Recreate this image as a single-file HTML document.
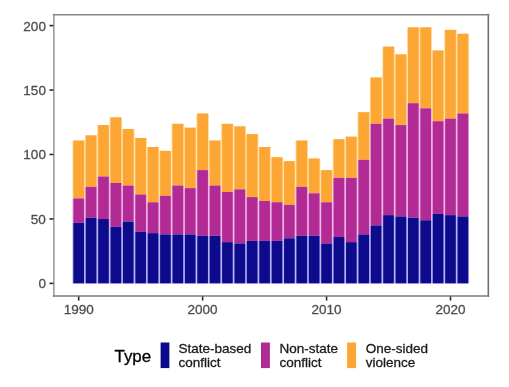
<!DOCTYPE html>
<html><head><meta charset="utf-8"><style>
html,body{margin:0;padding:0;background:#fff;}
body{width:509px;height:387px;overflow:hidden;}
svg{display:block;font-family:"Liberation Sans",sans-serif;will-change:transform;}
text{stroke:currentColor;stroke-width:0.3px;}
</style></head><body>
<svg width="509" height="387" viewBox="0 0 509 387">
<rect x="0" y="0" width="509" height="387" fill="#fff"/>
<rect x="72.50" y="140.55" width="12.393" height="57.89" fill="#fed98e"/>
<rect x="73.40" y="140.55" width="10.60" height="57.89" fill="#FCA636"/>
<rect x="72.50" y="198.44" width="12.393" height="24.44" fill="#eaa6e2"/>
<rect x="73.40" y="198.44" width="10.60" height="24.44" fill="#b22a94"/>
<rect x="72.50" y="222.88" width="12.393" height="60.47" fill="#a4a4f0"/>
<rect x="73.40" y="222.88" width="10.60" height="60.47" fill="#0d0a8c"/>
<rect x="84.90" y="135.40" width="12.393" height="51.46" fill="#fed98e"/>
<rect x="85.79" y="135.40" width="10.60" height="51.46" fill="#FCA636"/>
<rect x="84.90" y="186.86" width="12.393" height="30.88" fill="#eaa6e2"/>
<rect x="85.79" y="186.86" width="10.60" height="30.88" fill="#b22a94"/>
<rect x="84.90" y="217.74" width="12.393" height="65.61" fill="#a4a4f0"/>
<rect x="85.79" y="217.74" width="10.60" height="65.61" fill="#0d0a8c"/>
<rect x="97.29" y="125.11" width="12.393" height="51.46" fill="#fed98e"/>
<rect x="98.19" y="125.11" width="10.60" height="51.46" fill="#FCA636"/>
<rect x="97.29" y="176.57" width="12.393" height="42.45" fill="#eaa6e2"/>
<rect x="98.19" y="176.57" width="10.60" height="42.45" fill="#b22a94"/>
<rect x="97.29" y="219.03" width="12.393" height="64.33" fill="#a4a4f0"/>
<rect x="98.19" y="219.03" width="10.60" height="64.33" fill="#0d0a8c"/>
<rect x="109.68" y="117.39" width="12.393" height="65.61" fill="#fed98e"/>
<rect x="110.58" y="117.39" width="10.60" height="65.61" fill="#FCA636"/>
<rect x="109.68" y="183.00" width="12.393" height="43.74" fill="#eaa6e2"/>
<rect x="110.58" y="183.00" width="10.60" height="43.74" fill="#b22a94"/>
<rect x="109.68" y="226.74" width="12.393" height="56.61" fill="#a4a4f0"/>
<rect x="110.58" y="226.74" width="10.60" height="56.61" fill="#0d0a8c"/>
<rect x="122.08" y="128.97" width="12.393" height="56.61" fill="#fed98e"/>
<rect x="122.97" y="128.97" width="10.60" height="56.61" fill="#FCA636"/>
<rect x="122.08" y="185.58" width="12.393" height="36.02" fill="#eaa6e2"/>
<rect x="122.97" y="185.58" width="10.60" height="36.02" fill="#b22a94"/>
<rect x="122.08" y="221.60" width="12.393" height="61.75" fill="#a4a4f0"/>
<rect x="122.97" y="221.60" width="10.60" height="61.75" fill="#0d0a8c"/>
<rect x="134.47" y="137.98" width="12.393" height="56.61" fill="#fed98e"/>
<rect x="135.37" y="137.98" width="10.60" height="56.61" fill="#FCA636"/>
<rect x="134.47" y="194.58" width="12.393" height="37.31" fill="#eaa6e2"/>
<rect x="135.37" y="194.58" width="10.60" height="37.31" fill="#b22a94"/>
<rect x="134.47" y="231.89" width="12.393" height="51.46" fill="#a4a4f0"/>
<rect x="135.37" y="231.89" width="10.60" height="51.46" fill="#0d0a8c"/>
<rect x="146.86" y="146.98" width="12.393" height="55.32" fill="#fed98e"/>
<rect x="147.76" y="146.98" width="10.60" height="55.32" fill="#FCA636"/>
<rect x="146.86" y="202.30" width="12.393" height="30.88" fill="#eaa6e2"/>
<rect x="147.76" y="202.30" width="10.60" height="30.88" fill="#b22a94"/>
<rect x="146.86" y="233.18" width="12.393" height="50.17" fill="#a4a4f0"/>
<rect x="147.76" y="233.18" width="10.60" height="50.17" fill="#0d0a8c"/>
<rect x="159.25" y="150.84" width="12.393" height="45.03" fill="#fed98e"/>
<rect x="160.15" y="150.84" width="10.60" height="45.03" fill="#FCA636"/>
<rect x="159.25" y="195.87" width="12.393" height="38.59" fill="#eaa6e2"/>
<rect x="160.15" y="195.87" width="10.60" height="38.59" fill="#b22a94"/>
<rect x="159.25" y="234.46" width="12.393" height="48.89" fill="#a4a4f0"/>
<rect x="160.15" y="234.46" width="10.60" height="48.89" fill="#0d0a8c"/>
<rect x="171.65" y="123.82" width="12.393" height="61.75" fill="#fed98e"/>
<rect x="172.54" y="123.82" width="10.60" height="61.75" fill="#FCA636"/>
<rect x="171.65" y="185.58" width="12.393" height="48.89" fill="#eaa6e2"/>
<rect x="172.54" y="185.58" width="10.60" height="48.89" fill="#b22a94"/>
<rect x="171.65" y="234.46" width="12.393" height="48.89" fill="#a4a4f0"/>
<rect x="172.54" y="234.46" width="10.60" height="48.89" fill="#0d0a8c"/>
<rect x="184.04" y="127.68" width="12.393" height="60.47" fill="#fed98e"/>
<rect x="184.94" y="127.68" width="10.60" height="60.47" fill="#FCA636"/>
<rect x="184.04" y="188.15" width="12.393" height="46.31" fill="#eaa6e2"/>
<rect x="184.94" y="188.15" width="10.60" height="46.31" fill="#b22a94"/>
<rect x="184.04" y="234.46" width="12.393" height="48.89" fill="#a4a4f0"/>
<rect x="184.94" y="234.46" width="10.60" height="48.89" fill="#0d0a8c"/>
<rect x="196.43" y="113.53" width="12.393" height="56.61" fill="#fed98e"/>
<rect x="197.33" y="113.53" width="10.60" height="56.61" fill="#FCA636"/>
<rect x="196.43" y="170.14" width="12.393" height="65.61" fill="#eaa6e2"/>
<rect x="197.33" y="170.14" width="10.60" height="65.61" fill="#b22a94"/>
<rect x="196.43" y="235.75" width="12.393" height="47.60" fill="#a4a4f0"/>
<rect x="197.33" y="235.75" width="10.60" height="47.60" fill="#0d0a8c"/>
<rect x="208.83" y="140.55" width="12.393" height="45.03" fill="#fed98e"/>
<rect x="209.72" y="140.55" width="10.60" height="45.03" fill="#FCA636"/>
<rect x="208.83" y="185.58" width="12.393" height="50.17" fill="#eaa6e2"/>
<rect x="209.72" y="185.58" width="10.60" height="50.17" fill="#b22a94"/>
<rect x="208.83" y="235.75" width="12.393" height="47.60" fill="#a4a4f0"/>
<rect x="209.72" y="235.75" width="10.60" height="47.60" fill="#0d0a8c"/>
<rect x="221.22" y="123.82" width="12.393" height="68.18" fill="#fed98e"/>
<rect x="222.12" y="123.82" width="10.60" height="68.18" fill="#FCA636"/>
<rect x="221.22" y="192.01" width="12.393" height="50.17" fill="#eaa6e2"/>
<rect x="222.12" y="192.01" width="10.60" height="50.17" fill="#b22a94"/>
<rect x="221.22" y="242.18" width="12.393" height="41.17" fill="#a4a4f0"/>
<rect x="222.12" y="242.18" width="10.60" height="41.17" fill="#0d0a8c"/>
<rect x="233.61" y="126.40" width="12.393" height="63.04" fill="#fed98e"/>
<rect x="234.51" y="126.40" width="10.60" height="63.04" fill="#FCA636"/>
<rect x="233.61" y="189.44" width="12.393" height="54.03" fill="#eaa6e2"/>
<rect x="234.51" y="189.44" width="10.60" height="54.03" fill="#b22a94"/>
<rect x="233.61" y="243.47" width="12.393" height="39.88" fill="#a4a4f0"/>
<rect x="234.51" y="243.47" width="10.60" height="39.88" fill="#0d0a8c"/>
<rect x="246.01" y="134.12" width="12.393" height="63.04" fill="#fed98e"/>
<rect x="246.90" y="134.12" width="10.60" height="63.04" fill="#FCA636"/>
<rect x="246.01" y="197.15" width="12.393" height="43.74" fill="#eaa6e2"/>
<rect x="246.90" y="197.15" width="10.60" height="43.74" fill="#b22a94"/>
<rect x="246.01" y="240.90" width="12.393" height="42.45" fill="#a4a4f0"/>
<rect x="246.90" y="240.90" width="10.60" height="42.45" fill="#0d0a8c"/>
<rect x="258.40" y="146.98" width="12.393" height="54.03" fill="#fed98e"/>
<rect x="259.30" y="146.98" width="10.60" height="54.03" fill="#FCA636"/>
<rect x="258.40" y="201.01" width="12.393" height="39.88" fill="#eaa6e2"/>
<rect x="259.30" y="201.01" width="10.60" height="39.88" fill="#b22a94"/>
<rect x="258.40" y="240.90" width="12.393" height="42.45" fill="#a4a4f0"/>
<rect x="259.30" y="240.90" width="10.60" height="42.45" fill="#0d0a8c"/>
<rect x="270.79" y="157.27" width="12.393" height="45.03" fill="#fed98e"/>
<rect x="271.69" y="157.27" width="10.60" height="45.03" fill="#FCA636"/>
<rect x="270.79" y="202.30" width="12.393" height="38.59" fill="#eaa6e2"/>
<rect x="271.69" y="202.30" width="10.60" height="38.59" fill="#b22a94"/>
<rect x="270.79" y="240.90" width="12.393" height="42.45" fill="#a4a4f0"/>
<rect x="271.69" y="240.90" width="10.60" height="42.45" fill="#0d0a8c"/>
<rect x="283.18" y="161.13" width="12.393" height="43.74" fill="#fed98e"/>
<rect x="284.08" y="161.13" width="10.60" height="43.74" fill="#FCA636"/>
<rect x="283.18" y="204.87" width="12.393" height="33.45" fill="#eaa6e2"/>
<rect x="284.08" y="204.87" width="10.60" height="33.45" fill="#b22a94"/>
<rect x="283.18" y="238.32" width="12.393" height="45.03" fill="#a4a4f0"/>
<rect x="284.08" y="238.32" width="10.60" height="45.03" fill="#0d0a8c"/>
<rect x="295.58" y="140.55" width="12.393" height="46.31" fill="#fed98e"/>
<rect x="296.47" y="140.55" width="10.60" height="46.31" fill="#FCA636"/>
<rect x="295.58" y="186.86" width="12.393" height="48.89" fill="#eaa6e2"/>
<rect x="296.47" y="186.86" width="10.60" height="48.89" fill="#b22a94"/>
<rect x="295.58" y="235.75" width="12.393" height="47.60" fill="#a4a4f0"/>
<rect x="296.47" y="235.75" width="10.60" height="47.60" fill="#0d0a8c"/>
<rect x="307.97" y="158.56" width="12.393" height="34.74" fill="#fed98e"/>
<rect x="308.87" y="158.56" width="10.60" height="34.74" fill="#FCA636"/>
<rect x="307.97" y="193.30" width="12.393" height="42.45" fill="#eaa6e2"/>
<rect x="308.87" y="193.30" width="10.60" height="42.45" fill="#b22a94"/>
<rect x="307.97" y="235.75" width="12.393" height="47.60" fill="#a4a4f0"/>
<rect x="308.87" y="235.75" width="10.60" height="47.60" fill="#0d0a8c"/>
<rect x="320.36" y="170.14" width="12.393" height="32.16" fill="#fed98e"/>
<rect x="321.26" y="170.14" width="10.60" height="32.16" fill="#FCA636"/>
<rect x="320.36" y="202.30" width="12.393" height="41.17" fill="#eaa6e2"/>
<rect x="321.26" y="202.30" width="10.60" height="41.17" fill="#b22a94"/>
<rect x="320.36" y="243.47" width="12.393" height="39.88" fill="#a4a4f0"/>
<rect x="321.26" y="243.47" width="10.60" height="39.88" fill="#0d0a8c"/>
<rect x="332.76" y="139.26" width="12.393" height="38.59" fill="#fed98e"/>
<rect x="333.65" y="139.26" width="10.60" height="38.59" fill="#FCA636"/>
<rect x="332.76" y="177.86" width="12.393" height="59.18" fill="#eaa6e2"/>
<rect x="333.65" y="177.86" width="10.60" height="59.18" fill="#b22a94"/>
<rect x="332.76" y="237.04" width="12.393" height="46.31" fill="#a4a4f0"/>
<rect x="333.65" y="237.04" width="10.60" height="46.31" fill="#0d0a8c"/>
<rect x="345.15" y="136.69" width="12.393" height="41.17" fill="#fed98e"/>
<rect x="346.05" y="136.69" width="10.60" height="41.17" fill="#FCA636"/>
<rect x="345.15" y="177.86" width="12.393" height="64.33" fill="#eaa6e2"/>
<rect x="346.05" y="177.86" width="10.60" height="64.33" fill="#b22a94"/>
<rect x="345.15" y="242.18" width="12.393" height="41.17" fill="#a4a4f0"/>
<rect x="346.05" y="242.18" width="10.60" height="41.17" fill="#0d0a8c"/>
<rect x="357.54" y="112.25" width="12.393" height="47.60" fill="#fed98e"/>
<rect x="358.44" y="112.25" width="10.60" height="47.60" fill="#FCA636"/>
<rect x="357.54" y="159.85" width="12.393" height="74.62" fill="#eaa6e2"/>
<rect x="358.44" y="159.85" width="10.60" height="74.62" fill="#b22a94"/>
<rect x="357.54" y="234.46" width="12.393" height="48.89" fill="#a4a4f0"/>
<rect x="358.44" y="234.46" width="10.60" height="48.89" fill="#0d0a8c"/>
<rect x="369.94" y="77.51" width="12.393" height="46.31" fill="#fed98e"/>
<rect x="370.83" y="77.51" width="10.60" height="46.31" fill="#FCA636"/>
<rect x="369.94" y="123.82" width="12.393" height="101.63" fill="#eaa6e2"/>
<rect x="370.83" y="123.82" width="10.60" height="101.63" fill="#b22a94"/>
<rect x="369.94" y="225.46" width="12.393" height="57.89" fill="#a4a4f0"/>
<rect x="370.83" y="225.46" width="10.60" height="57.89" fill="#0d0a8c"/>
<rect x="382.33" y="46.63" width="12.393" height="72.04" fill="#fed98e"/>
<rect x="383.23" y="46.63" width="10.60" height="72.04" fill="#FCA636"/>
<rect x="382.33" y="118.68" width="12.393" height="96.49" fill="#eaa6e2"/>
<rect x="383.23" y="118.68" width="10.60" height="96.49" fill="#b22a94"/>
<rect x="382.33" y="215.17" width="12.393" height="68.18" fill="#a4a4f0"/>
<rect x="383.23" y="215.17" width="10.60" height="68.18" fill="#0d0a8c"/>
<rect x="394.72" y="54.35" width="12.393" height="70.76" fill="#fed98e"/>
<rect x="395.62" y="54.35" width="10.60" height="70.76" fill="#FCA636"/>
<rect x="394.72" y="125.11" width="12.393" height="91.34" fill="#eaa6e2"/>
<rect x="395.62" y="125.11" width="10.60" height="91.34" fill="#b22a94"/>
<rect x="394.72" y="216.45" width="12.393" height="66.90" fill="#a4a4f0"/>
<rect x="395.62" y="216.45" width="10.60" height="66.90" fill="#0d0a8c"/>
<rect x="407.11" y="27.34" width="12.393" height="75.90" fill="#fed98e"/>
<rect x="408.01" y="27.34" width="10.60" height="75.90" fill="#FCA636"/>
<rect x="407.11" y="103.24" width="12.393" height="114.50" fill="#eaa6e2"/>
<rect x="408.01" y="103.24" width="10.60" height="114.50" fill="#b22a94"/>
<rect x="407.11" y="217.74" width="12.393" height="65.61" fill="#a4a4f0"/>
<rect x="408.01" y="217.74" width="10.60" height="65.61" fill="#0d0a8c"/>
<rect x="419.51" y="27.34" width="12.393" height="81.05" fill="#fed98e"/>
<rect x="420.40" y="27.34" width="10.60" height="81.05" fill="#FCA636"/>
<rect x="419.51" y="108.39" width="12.393" height="111.93" fill="#eaa6e2"/>
<rect x="420.40" y="108.39" width="10.60" height="111.93" fill="#b22a94"/>
<rect x="419.51" y="220.31" width="12.393" height="63.04" fill="#a4a4f0"/>
<rect x="420.40" y="220.31" width="10.60" height="63.04" fill="#0d0a8c"/>
<rect x="431.90" y="50.49" width="12.393" height="70.76" fill="#fed98e"/>
<rect x="432.80" y="50.49" width="10.60" height="70.76" fill="#FCA636"/>
<rect x="431.90" y="121.25" width="12.393" height="92.63" fill="#eaa6e2"/>
<rect x="432.80" y="121.25" width="10.60" height="92.63" fill="#b22a94"/>
<rect x="431.90" y="213.88" width="12.393" height="69.47" fill="#a4a4f0"/>
<rect x="432.80" y="213.88" width="10.60" height="69.47" fill="#0d0a8c"/>
<rect x="444.29" y="29.91" width="12.393" height="88.77" fill="#fed98e"/>
<rect x="445.19" y="29.91" width="10.60" height="88.77" fill="#FCA636"/>
<rect x="444.29" y="118.68" width="12.393" height="96.49" fill="#eaa6e2"/>
<rect x="445.19" y="118.68" width="10.60" height="96.49" fill="#b22a94"/>
<rect x="444.29" y="215.17" width="12.393" height="68.18" fill="#a4a4f0"/>
<rect x="445.19" y="215.17" width="10.60" height="68.18" fill="#0d0a8c"/>
<rect x="456.69" y="33.77" width="12.393" height="79.76" fill="#fed98e"/>
<rect x="457.58" y="33.77" width="10.60" height="79.76" fill="#FCA636"/>
<rect x="456.69" y="113.53" width="12.393" height="102.92" fill="#eaa6e2"/>
<rect x="457.58" y="113.53" width="10.60" height="102.92" fill="#b22a94"/>
<rect x="456.69" y="216.45" width="12.393" height="66.90" fill="#a4a4f0"/>
<rect x="457.58" y="216.45" width="10.60" height="66.90" fill="#0d0a8c"/>
<line x1="53.90" y1="13.80" x2="53.90" y2="296.95" stroke="#9c9c9c" stroke-width="1.6"/>
<line x1="488.30" y1="13.80" x2="488.30" y2="296.95" stroke="#707070" stroke-width="1.6"/>
<line x1="52.90" y1="14.80" x2="489.30" y2="14.80" stroke="#858585" stroke-width="1.6"/>
<line x1="52.90" y1="295.95" x2="489.30" y2="295.95" stroke="#7c7c7c" stroke-width="1.6"/>
<line x1="49.50" y1="283.40" x2="53.40" y2="283.40" stroke="#2a2a2a" stroke-width="1.6"/>
<text x="45.9" y="288.30" text-anchor="end" font-size="13.5" fill="#4d4d4d" style="color:#4d4d4d">0</text>
<line x1="49.50" y1="218.95" x2="53.40" y2="218.95" stroke="#2a2a2a" stroke-width="1.6"/>
<text x="45.9" y="223.85" text-anchor="end" font-size="13.5" fill="#4d4d4d" style="color:#4d4d4d">50</text>
<line x1="49.50" y1="154.50" x2="53.40" y2="154.50" stroke="#2a2a2a" stroke-width="1.6"/>
<text x="45.9" y="159.40" text-anchor="end" font-size="13.5" fill="#4d4d4d" style="color:#4d4d4d">100</text>
<line x1="49.50" y1="90.05" x2="53.40" y2="90.05" stroke="#2a2a2a" stroke-width="1.6"/>
<text x="45.9" y="94.95" text-anchor="end" font-size="13.5" fill="#4d4d4d" style="color:#4d4d4d">150</text>
<line x1="49.50" y1="25.60" x2="53.40" y2="25.60" stroke="#2a2a2a" stroke-width="1.6"/>
<text x="45.9" y="30.50" text-anchor="end" font-size="13.5" fill="#4d4d4d" style="color:#4d4d4d">200</text>
<line x1="78.70" y1="296.45" x2="78.70" y2="300.55" stroke="#2a2a2a" stroke-width="1.6"/>
<text x="78.70" y="314.25" text-anchor="middle" font-size="13.5" fill="#4d4d4d" style="color:#4d4d4d">1990</text>
<line x1="202.63" y1="296.45" x2="202.63" y2="300.55" stroke="#2a2a2a" stroke-width="1.6"/>
<text x="202.63" y="314.25" text-anchor="middle" font-size="13.5" fill="#4d4d4d" style="color:#4d4d4d">2000</text>
<line x1="326.56" y1="296.45" x2="326.56" y2="300.55" stroke="#2a2a2a" stroke-width="1.6"/>
<text x="326.56" y="314.25" text-anchor="middle" font-size="13.5" fill="#4d4d4d" style="color:#4d4d4d">2010</text>
<line x1="450.49" y1="296.45" x2="450.49" y2="300.55" stroke="#2a2a2a" stroke-width="1.6"/>
<text x="450.49" y="314.25" text-anchor="middle" font-size="13.5" fill="#4d4d4d" style="color:#4d4d4d">2020</text>

<text x="114.5" y="361.5" font-size="16.9" fill="#000" style="color:#000">Type</text>
<rect x="160.6" y="342.5" width="8.8" height="25.6" fill="#0d0a8c"/>
<text x="178.5" y="353.2" font-size="13.5" fill="#1a1a1a" style="color:#1a1a1a">State-based</text>
<text x="178.5" y="367.1" font-size="13.5" fill="#1a1a1a" style="color:#1a1a1a">conflict</text>
<rect x="261.0" y="342.5" width="8.9" height="25.6" fill="#b22a94"/>
<text x="279.5" y="353.2" font-size="13.5" fill="#1a1a1a" style="color:#1a1a1a">Non-state</text>
<text x="279.5" y="367.1" font-size="13.5" fill="#1a1a1a" style="color:#1a1a1a">conflict</text>
<rect x="347.1" y="342.5" width="9.0" height="25.6" fill="#FCA636"/>
<text x="365.8" y="353.2" font-size="13.5" fill="#1a1a1a" style="color:#1a1a1a">One-sided</text>
<text x="365.8" y="367.1" font-size="13.5" fill="#1a1a1a" style="color:#1a1a1a">violence</text>

</svg>
</body></html>
